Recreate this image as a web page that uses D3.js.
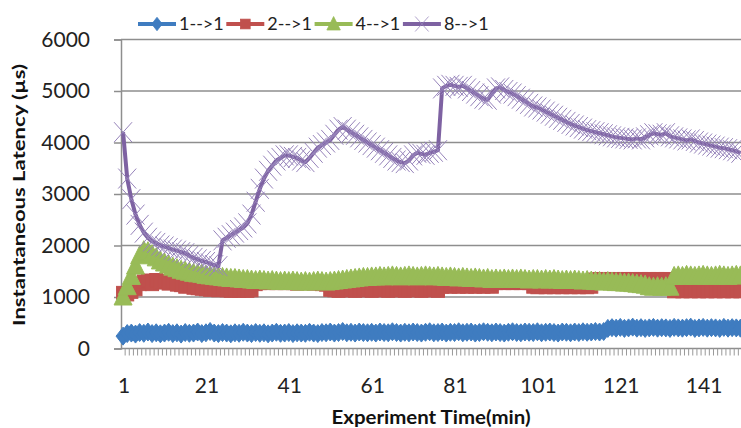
<!DOCTYPE html>
<html>
<head>
<meta charset="utf-8">
<script src="https://cdnjs.cloudflare.com/ajax/libs/d3/7.8.5/d3.min.js"></script>
<style>
  body { margin: 0; background: #fff; }
  svg { display: block; }
</style>
</head>
<body>
<div id="chart"></div>
<script>
// categories: experiment minutes 1..150
var minutes = d3.range(1, 151)
var xTickLabels = [1, 21, 41, 61, 81, 101, 121, 141]
var yTicks = [0, 1000, 2000, 3000, 4000, 5000, 6000]
var seriesNames = ["1-->1", "2-->1", "4-->1", "8-->1"]

var lat1 = [240, 290, 300, 280, 310, 295, 320, 290, 305, 285,
  300, 315, 290, 305, 280, 310, 295, 300, 320, 290,
  305, 330, 300, 290, 310, 300, 285, 305, 295, 315,
  300, 290, 310, 295, 305, 285, 300, 315, 295, 300,
  310, 290, 305, 300, 295, 315, 300, 290, 310, 305,
  320, 300, 310, 330, 305, 315, 300, 320, 310, 305,
  315, 300, 320, 310, 305, 325, 310, 300, 315, 305,
  320, 310, 300, 315, 325, 305, 310, 320, 300, 315,
  310, 325, 305, 315, 320, 300, 310, 325, 315, 305,
  320, 310, 300, 315, 325, 310, 305, 320, 315, 310,
  325, 305, 315, 320, 310, 300, 320, 315, 305, 320,
  310, 325, 315, 320, 330, 320, 330, 390, 405, 395,
  410, 390, 400, 415, 395, 405, 390, 400, 410, 395,
  405, 400, 390, 410, 400, 395, 405, 415, 390, 400,
  410, 395, 405, 400, 390, 410, 395, 405, 400, 395]

var lat2 = [1080, 1050, 1100, 1150, 1250, 1300, 1320, 1250, 1330, 1280,
  1310, 1260, 1300, 1240, 1230, 1200, 1210, 1180, 1170, 1160,
  1150, 1140, 1150, 1130, 1140, 1130, 1120, 1130, 1120, 1130,
  1120, 1130, 1250, 1270, 1280, 1270, 1280, 1270, 1280, 1270,
  1280, 1270, 1260, 1270, 1280, 1270, 1260, 1270, 1250, 1240,
  1140, 1130, 1120, 1130, 1140, 1130, 1120, 1130, 1140, 1130,
  1120, 1130, 1140, 1130, 1120, 1130, 1140, 1130, 1120, 1130,
  1140, 1130, 1120, 1130, 1140, 1130, 1120, 1200, 1210, 1200,
  1210, 1200, 1210, 1200, 1210, 1200, 1210, 1200, 1210, 1200,
  1270, 1280, 1270, 1280, 1270, 1280, 1270, 1280, 1270, 1200,
  1190, 1200, 1190, 1200, 1190, 1200, 1190, 1200, 1190, 1200,
  1190, 1200, 1190, 1200, 1340, 1350, 1340, 1350, 1340, 1350,
  1340, 1350, 1340, 1350, 1340, 1350, 1340, 1350, 1340, 1350,
  1340, 1350, 1340, 1110, 1120, 1110, 1120, 1110, 1120, 1110,
  1120, 1110, 1120, 1110, 1120, 1110, 1120, 1110, 1120, 1110]

var lat4 = [1000, 1200, 1400, 1600, 1800, 1900, 1880, 1820, 1760, 1700,
  1660, 1620, 1580, 1550, 1520, 1500, 1480, 1460, 1450, 1440,
  1420, 1410, 1400, 1390, 1380, 1370, 1360, 1360, 1350, 1340,
  1340, 1330, 1320, 1330, 1320, 1310, 1320, 1310, 1300, 1310,
  1300, 1310, 1300, 1290, 1300, 1290, 1300, 1310, 1300, 1290,
  1300, 1310, 1320, 1330, 1340, 1350, 1360, 1370, 1380, 1380,
  1390, 1390, 1400, 1390, 1400, 1410, 1400, 1390, 1400, 1410,
  1400, 1390, 1400, 1410, 1400, 1390, 1400, 1390, 1380, 1390,
  1380, 1370, 1380, 1370, 1360, 1370, 1360, 1350, 1360, 1340,
  1350, 1340, 1350, 1340, 1350, 1340, 1350, 1340, 1330, 1340,
  1340, 1330, 1340, 1330, 1340, 1330, 1320, 1330, 1320, 1330,
  1320, 1310, 1320, 1310, 1300, 1300, 1290, 1300, 1290, 1280,
  1280, 1270, 1270, 1260, 1250, 1240, 1230, 1200, 1190, 1200,
  1190, 1200, 1190, 1400, 1410, 1400, 1420, 1410, 1400, 1410,
  1420, 1410, 1400, 1410, 1420, 1410, 1400, 1410, 1420, 1410]

var lat8 = [4200, 3300, 2900, 2600, 2400, 2250, 2150, 2080, 2050, 2000,
  1980, 1950, 1920, 1900, 1870, 1850, 1800, 1760, 1730, 1700,
  1680, 1650, 1620, 1600, 2100, 2150, 2200, 2250, 2300, 2350,
  2430, 2600, 2850, 3100, 3300, 3450, 3550, 3650, 3700, 3750,
  3750, 3720, 3700, 3650, 3620, 3700, 3800, 3900, 3950, 4000,
  4050, 4150, 4250, 4300, 4250, 4200, 4150, 4100, 4050, 4000,
  3950, 3900, 3850, 3800, 3750, 3700, 3650, 3620, 3600, 3650,
  3750, 3800, 3780, 3760, 3800, 3820, 3850, 5050, 5100, 5120,
  5100, 5080, 5100, 5050, 5000, 4950, 4900, 4850, 4830, 4950,
  5050, 5070, 5020, 4980, 4950, 4900, 4850, 4800, 4750, 4700,
  4680, 4640, 4600, 4560, 4520, 4480, 4440, 4400, 4360, 4330,
  4300, 4270, 4240, 4220, 4200, 4180, 4160, 4140, 4120, 4100,
  4090, 4080, 4070, 4060, 4080, 4060, 4100, 4140, 4180, 4160,
  4150, 4180, 4120, 4100, 4080, 4060, 4040, 4060, 4030, 4000,
  3980, 3960, 3940, 3920, 3900, 3890, 3870, 3850, 3830, 3800]

var allSeries = [lat1, lat2, lat4, lat8]
var colors = ["#3f7cc0", "#c0504d", "#98bb57", "#7e62a2"]
var markers = ["diamond", "square", "triangle", "cross"]

var width = 741, height = 428
var plot = {left: 121, right: 742.5, top: 39.5, bottom: 348.5}

var svg = d3.select("#chart")
  .append("svg")
  .attr("width", width)
  .attr("height", height)

var x = d3.scaleBand()
  .domain(minutes)
  .range([plot.left, plot.right])

var y = d3.scaleLinear()
  .domain([0, 6000])
  .range([plot.bottom, plot.top])

var cx = function(m) { return x(m) + x.bandwidth() / 2 }

// gridlines
svg.append("g")
  .selectAll("line")
  .data(yTicks.slice(1))
  .enter()
  .append("line")
  .attr("x1", plot.left)
  .attr("x2", width)
  .attr("y1", function(d) { return y(d) })
  .attr("y2", function(d) { return y(d) })
  .style("stroke", "#8e8e8e")
  .style("stroke-width", 1.5)

// y axis
var yAxis = svg.append("g")
  .attr("transform", "translate(" + plot.left + ",0)")
  .call(d3.axisLeft(y).tickValues(yTicks).tickFormat(d3.format("d")).tickSize(7).tickPadding(24))
yAxis.select(".domain").style("stroke", "#8e8e8e").style("stroke-width", 1.5)
yAxis.selectAll(".tick line").style("stroke", "#8e8e8e").style("stroke-width", 1.5)
yAxis.selectAll("text")
  .style("font-family", "Lato")
  .style("font-size", "21px")
  .style("fill", "#222")

// x axis: a small tick at every category boundary
var xAxis = svg.append("g")
  .attr("transform", "translate(0," + plot.bottom + ")")
xAxis.append("line")
  .attr("x1", plot.left)
  .attr("x2", width)
  .style("stroke", "#8e8e8e")
  .style("stroke-width", 1.5)
xAxis.selectAll(".mtick")
  .data(minutes)
  .enter()
  .append("line")
  .attr("class", "mtick")
  .attr("x1", function(d) { return x(d) + x.bandwidth() })
  .attr("x2", function(d) { return x(d) + x.bandwidth() })
  .attr("y1", 0)
  .attr("y2", 7)
  .style("stroke", "#999")
  .style("stroke-width", 1)
xAxis.selectAll(".xlab")
  .data(xTickLabels)
  .enter()
  .append("text")
  .attr("x", function(d) { return cx(d) + 1 })
  .attr("y", 44)
  .attr("text-anchor", "middle")
  .style("font-family", "Lato")
  .style("font-size", "21px")
  .style("fill", "#222")
  .text(function(d) { return d })

// marker shapes, roughly like excel's defaults
function drawMarker(g, type, color, k) {
  k = k || 1
  if (type == "diamond") {
    g.append("path").attr("d", "M0,-9L7,0L0,9L-7,0Z")
      .attr("transform", "scale(" + k + ")")
      .style("fill", color).style("stroke", color)
  } else if (type == "square") {
    g.append("rect").attr("x", -6.5).attr("y", -6.5).attr("width", 13).attr("height", 13)
      .attr("transform", "scale(" + k + ")")
      .style("fill", color).style("stroke", color)
  } else if (type == "triangle") {
    g.append("path").attr("d", "M0,-10L9,8L-9,8Z")
      .attr("transform", "scale(" + k + ")")
      .style("fill", color).style("stroke", color)
  } else {
    g.append("path").attr("d", "M-9,-10L9,10M9,-10L-9,10")
      .attr("transform", "scale(" + k + ")")
      .style("fill", "none").style("stroke", "#9683ba").style("stroke-width", 1)
  }
}

var line = d3.line()
  .x(function(d, i) { return cx(minutes[i]) })
  .y(function(d) { return y(d) })

// series: line first, then its markers
allSeries.forEach(function(vals, s) {
  var g = svg.append("g")
  g.append("path")
    .datum(vals)
    .attr("d", line)
    .style("fill", "none")
    .style("stroke", colors[s])
    .style("stroke-width", 4)
    .style("stroke-linejoin", "round")
  g.selectAll(".mk")
    .data(vals)
    .enter()
    .append("g")
    .attr("class", "mk")
    .attr("transform", function(d, i) { return "translate(" + cx(minutes[i]) + "," + y(d) + ")" })
    .each(function() { drawMarker(d3.select(this), markers[s], colors[s]) })
})

// legend
var legend = svg.append("g")
  .selectAll("g")
  .data(seriesNames)
  .enter()
  .append("g")
  .attr("transform", function(d, i) { return "translate(" + (138 + i * 88.3) + ",24)" })
legend.append("line")
  .attr("x1", 0)
  .attr("x2", 38)
  .style("stroke", function(d, i) { return colors[i] })
  .style("stroke-width", 4)
legend.append("g")
  .attr("transform", "translate(19,0)")
  .each(function(d, i) { drawMarker(d3.select(this), markers[i], colors[i], 0.75) })
legend.append("text")
  .attr("x", 41)
  .attr("y", 6)
  .style("font-family", "Lato")
  .style("font-size", "18px")
  .style("fill", "#222")
  .text(function(d) { return d })

// axis titles
svg.append("text")
  .attr("transform", "translate(25,195) rotate(-90)")
  .attr("text-anchor", "middle")
  .attr("textLength", 262)
  .attr("lengthAdjust", "spacingAndGlyphs")
  .style("font-family", "Lato")
  .style("font-weight", "bold")
  .style("font-size", "17px")
  .style("fill", "#111")
  .text("Instantaneous  Latency (\u00b5s)")

svg.append("text")
  .attr("x", 431)
  .attr("y", 424)
  .attr("text-anchor", "middle")
  .attr("textLength", 199)
  .attr("lengthAdjust", "spacingAndGlyphs")
  .style("font-family", "Lato")
  .style("font-weight", "bold")
  .style("font-size", "18px")
  .style("fill", "#111")
  .text("Experiment Time(min)")
</script>
</body>
</html>
